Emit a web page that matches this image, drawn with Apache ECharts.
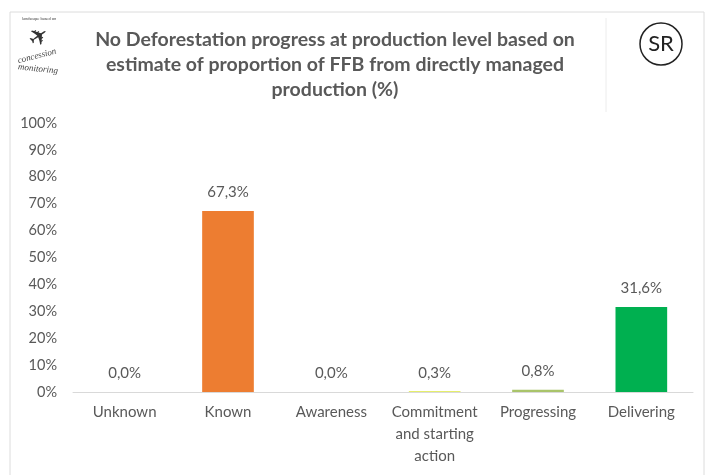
<!DOCTYPE html>
<html><head><meta charset="utf-8">
<script src="https://cdn.jsdelivr.net/npm/echarts@6/dist/echarts.min.js"></script>
<style>html,body{margin:0;padding:0;background:#fff}#c{width:707px;height:475px}</style>
</head><body><div id="c"></div>
<script>
const categories = ['Unknown','Known','Awareness','Commitment\nand starting\naction','Progressing','Delivering'];
const values = [0.0, 67.3, 0.0, 0.3, 0.8, 31.6];
const barColors = ['#C00000','#ED7D31','#FFC000','#DDE83A','#A9C46A','#00B050'];
const titleText = 'No Deforestation progress at production level based on\nestimate of proportion of FFB from directly managed\nproduction (%)';

const chart = echarts.init(document.getElementById('c'));
const font = 'Lato, "Open Sans", sans-serif';
chart.setOption({
  animation: false,
  title: {
    text: titleText,
    left: 335, top: 27, textAlign: 'center', padding: 0,
    textStyle: {fontFamily: font, fontWeight: 'bold', fontSize: 19.5, color: '#595959', lineHeight: 25}
  },
  grid: {left: 73, right: 14, top: 123, bottom: 83, containLabel: false},
  xAxis: {
    type: 'category', data: categories,
    axisLine: {lineStyle: {color: '#d9d9d9'}},
    axisTick: {show: false},
    axisLabel: {fontFamily: font, fontSize: 15, color: '#595959', lineHeight: 22, margin: 9, interval: 0}
  },
  yAxis: {
    type: 'value', min: 0, max: 100, interval: 10,
    splitLine: {show: false},
    axisLine: {show: false}, axisTick: {show: false},
    axisLabel: {fontFamily: font, fontSize: 14.5, color: '#595959', margin: 16, formatter: v => v + '%'}
  },
  series: [{
    type: 'bar', barWidth: '50%',
    data: values.map((v, i) => ({value: v, itemStyle: {color: barColors[i]}})),
    label: {show: true, position: 'top', distance: 11, fontFamily: font, fontSize: 15, color: '#595959',
      formatter: p => p.value.toFixed(1).replace('.', ',') + '%'}
  }],
  graphic: [
    {type: 'rect', shape: {x: 10, y: 12, width: 694, height: 470}, style: {fill: 'none', stroke: '#dcdcdc', lineWidth: 1}},
    {type: 'line', shape: {x1: 606, y1: 18, x2: 606, y2: 112}, style: {stroke: '#ececec', lineWidth: 1}},
    {type: 'circle', shape: {cx: 661, cy: 44, r: 21}, style: {fill: '#fff', stroke: '#222', lineWidth: 1.5}},
    {type: 'text', x: 661, y: 44, style: {text: 'SR', fontFamily: font, fontSize: 22, fill: '#222', align: 'center', verticalAlign: 'middle'}},
    {type: 'text', x: 22, y: 17, style: {text: 'landscape based on', fontFamily: font, fontSize: 4, fill: '#444'}},
    {type: 'text', x: 40, y: 38, rotation: 0.6, style: {text: '✈', fontSize: 24, fill: '#333', align: 'center', verticalAlign: 'middle'}},
    {type: 'text', x: 37, y: 56, rotation: 0.25, style: {text: 'concession', fontFamily: 'serif', fontStyle: 'italic', fontSize: 9, fill: '#444', align: 'center', verticalAlign: 'middle'}},
    {type: 'text', x: 38, y: 69, rotation: -0.1, style: {text: 'monitoring', fontFamily: 'serif', fontStyle: 'italic', fontSize: 9, fill: '#444', align: 'center', verticalAlign: 'middle'}}
  ]
});
</script></body></html>
